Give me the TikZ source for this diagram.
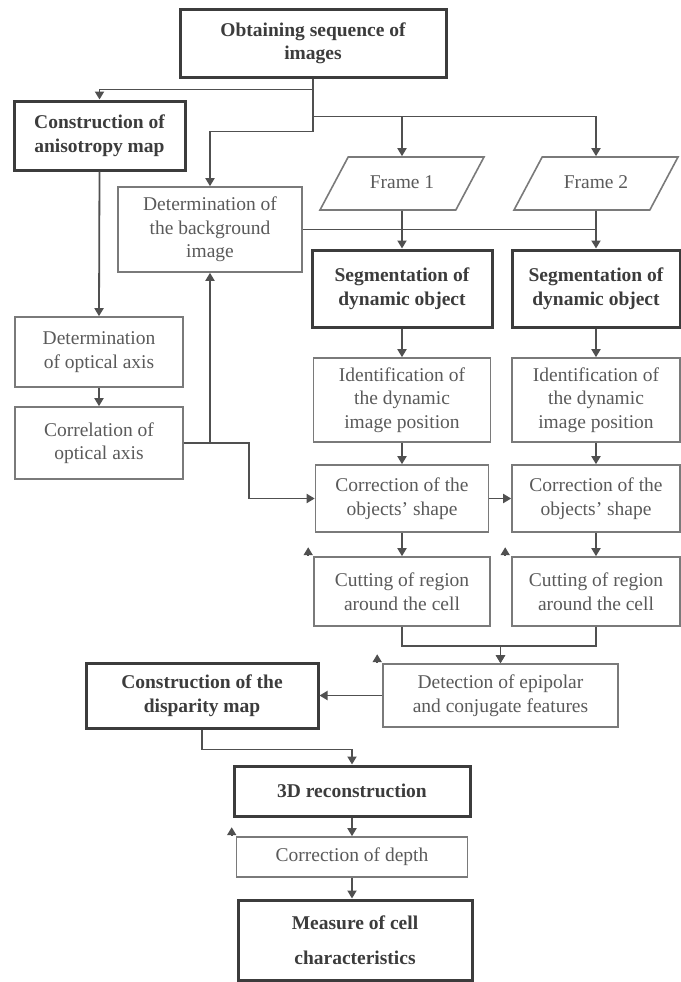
\documentclass[tikz,border=0pt]{standalone}
\usepackage{fontspec}
\setmainfont{Liberation Serif}
\usetikzlibrary{shapes.geometric,arrows.meta}
\definecolor{fcdark}{HTML}{3C3C3C}
\definecolor{fcgray}{HTML}{7A7A7A}
\definecolor{fctext}{HTML}{5A5A5A}
\definecolor{fcline}{HTML}{505050}

\begin{document}
\begin{tikzpicture}[x=1pt, y=-1pt,
    every node/.style={font=\fontsize{19.5}{23.5}\selectfont, inner sep=2pt},
    kb/.style={
      draw=fcdark, line width=3pt,
      text=fcdark, font=\fontsize{19.5}{23.5}\selectfont\bfseries,
      align=center,
    },
    pb/.style={
      draw=fcgray, line width=1.6pt,
      text=fctext, align=center,
    },
    fr/.style={
      trapezium, trapezium left angle=62, trapezium right angle=118,
      trapezium stretches body=true,
      draw=fcgray, line width=1.6pt, text=fctext,
      text height=14pt, text depth=4pt, inner ysep=17.5pt,
      minimum width=164pt,
    },
    arr/.style={draw=fcline, line width=1.8pt, -{Triangle[width=9pt,length=8pt]}},
    ln/.style={draw=fcline, line width=1.8pt},
  ]
  \useasboundingbox (0,0) rectangle (680,982);

  % top
  \node[kb, minimum width=266pt, minimum height=67pt] (obt) at (313,43.5) {Obtaining sequence of\\images};
  \node[kb, minimum width=171pt, minimum height=69pt] (aniso) at (99.5,135.5) {Construction of\\anisotropy map};
  \node[pb, minimum width=184pt, minimum height=85pt] (bg) at (210,229.5) {Determination of\\the background\\image};
  \node[fr] (fr1) at (402,183.5) {Frame 1};
  \node[fr] (fr2) at (596,183.5) {Frame 2};

  % left column
  \node[pb, minimum width=168pt, minimum height=70pt] (optax) at (99,352) {Determination\\of optical axis};
  \node[pb, minimum width=168pt, minimum height=72pt] (corr) at (99,443) {Correlation of\\optical axis};

  % two frame columns
  \node[kb, minimum width=180pt, minimum height=77pt] (seg1) at (402,288.5) {Segmentation of\\dynamic object};
  \node[kb, minimum width=168pt, minimum height=77pt] (seg2) at (596,288.5) {Segmentation of\\dynamic object};
  \node[pb, minimum width=177pt, minimum height=84pt] (id1) at (402,400) {Identification of\\the dynamic\\image position};
  \node[pb, minimum width=168pt, minimum height=84pt] (id2) at (596,400) {Identification of\\the dynamic\\image position};
  \node[pb, minimum width=173pt, minimum height=67pt] (cor1) at (402,498.5) {Correction of the\\objects' shape};
  \node[pb, minimum width=168pt, minimum height=67pt] (cor2) at (596,498.5) {Correction of the\\objects' shape};
  \node[pb, minimum width=176pt, minimum height=69pt] (cut1) at (402,591.5) {Cutting of region\\around the cell};
  \node[pb, minimum width=168pt, minimum height=69pt] (cut2) at (596,591.5) {Cutting of region\\around the cell};

  % bottom
  \node[pb, minimum width=235pt, minimum height=63pt] (det) at (500.5,695.5) {Detection of epipolar\\and conjugate features};
  \node[kb, minimum width=232pt, minimum height=65pt] (disp) at (202,695.5) {Construction of the\\disparity map};
  \node[kb, minimum width=236pt, minimum height=50pt] (recon) at (352,791) {3D reconstruction};
  \node[pb, minimum width=231pt, minimum height=40pt] (depth) at (352,857) {Correction of depth};
  \node[kb, minimum width=234pt, minimum height=80pt] (meas) at (355,940) {Measure of cell\\[12pt]characteristics};

  % connectors
  \draw[arr] (obt.south) -- ++(0,11) -| (aniso.north);
  \draw[arr] (obt.south) -- ++(0,38) -| (fr1.north);
  \draw[arr] (obt.south) -- ++(0,38) -| (fr2.north);
  \draw[arr] (obt.south) -- ++(0,53) -| (bg.north);
  \draw[arr] (fr1.south) -- (seg1.north);
  \draw[arr] (fr2.south) -- (seg2.north);
  \draw[ln] (bg.east) -- (bg.east -| fr2.south);
  \draw[arr] (aniso.south) -- (optax.north);
  \draw[arr] (optax.south) -- (corr.north);
  \draw[arr] (corr.east) -| (bg.south);
  \draw[arr] (corr.east) -- ++(65,0) |- (cor1.west);
  \draw[arr] (seg1.south) -- (id1.north);
  \draw[arr] (seg2.south) -- (id2.north);
  \draw[arr] (id1.south) -- (cor1.north);
  \draw[arr] (id2.south) -- (cor2.north);
  \draw[arr] (cor1.south) -- (cut1.north);
  \draw[arr] (cor2.south) -- (cut2.north);
  \draw[arr] (cor1.east) -- (cor2.west);
  \draw[arr] (cut1.south) -- ++(0,19) -| (det.north);
  \draw[arr] (cut2.south) -- ++(0,19) -| (det.north);
  \draw[arr] (det.west) -- (disp.east);
  \draw[arr] (disp.south) -- ++(0,20) -| (recon.north);
  \draw[arr] (recon.south) -- (depth.north);
  \draw[arr] (depth.south) -- (depth.south |- meas.north);

  % loose tips by the corners
  \draw[arr] ([shift={(-5,-1)}]cut1.north west) -- ++(0,-8);
  \draw[arr] ([shift={(-6,-1)}]cut2.north west) -- ++(0,-8);
  \draw[arr] ([shift={(-5,-1)}]det.north west) -- ++(0,-8);
  \draw[arr] ([shift={(-4,-1)}]depth.north west) -- ++(0,-8);
\end{tikzpicture}
\end{document}
